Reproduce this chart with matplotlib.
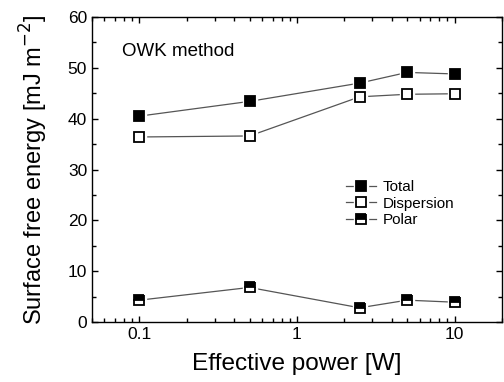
import numpy as np
import matplotlib
matplotlib.use("Agg")
import matplotlib.pyplot as plt
from matplotlib.ticker import MultipleLocator, LogLocator

plt.rcParams['font.family'] = ['Liberation Sans', 'DejaVu Sans']

power = [0.1, 0.5, 2.5, 5, 10]
total = [40.5, 43.4, 47.0, 49.1, 48.8]
dispersion = [36.4, 36.6, 44.3, 44.8, 44.9]
polar = [4.3, 6.8, 2.8, 4.3, 3.9]

fig = plt.figure(figsize=(5.04, 3.82), dpi=100)
ax = fig.add_axes([0.1825, 0.157, 0.8135, 0.7985])

line_col = '#555555'
ms = 6.6

def draw(y, face, fill='full'):
    # line first, then white pad so the line stops short of the marker
    ln, = ax.plot(power, y, '-', color=line_col, lw=0.9, zorder=1)
    pad, = ax.plot(power, y, 's', ms=ms + 4, mfc='white', mec='white', zorder=2)
    mk, = ax.plot(power, y, 's', ms=ms, mfc=face, mec='black', mew=1.3,
                  fillstyle=fill, markerfacecoloralt='white', zorder=3)
    return (ln, pad, mk)

h1 = draw(total, 'black')
h2 = draw(dispersion, 'white')
h3 = draw(polar, 'black', fill='top')

ax.set_xscale('log')
ax.set_xlim(0.05, 20)
ax.set_ylim(0, 60)
ax.set_xticks([0.1, 1, 10])
ax.set_xticklabels(['0.1', '1', '10'])
ax.xaxis.set_minor_locator(LogLocator(base=10, subs=np.arange(2, 10)))
ax.xaxis.set_minor_formatter(plt.NullFormatter())
ax.yaxis.set_major_locator(MultipleLocator(10))
ax.yaxis.set_minor_locator(MultipleLocator(5))

ax.tick_params(which='both', direction='in', top=True, right=True,
               labelsize=12.5, width=1)
ax.tick_params(which='major', length=4.5)
ax.tick_params(which='minor', length=3)
for s in ax.spines.values():
    s.set_linewidth(1)

ax.set_xlabel('Effective power [W]', fontsize=17.6, labelpad=8)
ax.set_ylabel('Surface free energy [mJ m$^{-2}$]', fontsize=17, labelpad=13)

ax.text(0.073, 0.872, 'OWK method', transform=ax.transAxes, fontsize=13.5)

ax.legend(handles=[h1, h2, h3], labels=['Total', 'Dispersion', 'Polar'],
          loc='center left', bbox_to_anchor=(0.6, 0.388),
          frameon=False, fontsize=11, handlelength=2.0, handletextpad=0.4,
          labelspacing=0.15, borderpad=0)

fig.savefig('out.png', dpi=100)
